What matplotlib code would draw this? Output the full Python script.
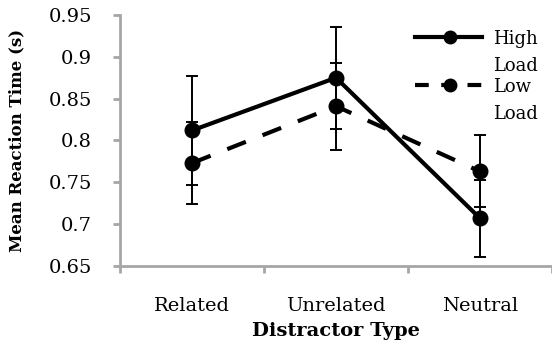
import numpy as np
from matplotlib import pyplot as plt

plt.rcParams.update({'font.size': 14,
                     'font.family': ['DejaVu Serif']})

categories = ['Related', 'Unrelated', 'Neutral']
high_load = [0.812, 0.875, 0.707]
low_load = [0.773, 0.841, 0.763]
high_err = [0.065, 0.061, 0.046]
low_err = [0.049, 0.052, 0.043]
series_labels = [['High', 'Load'], ['Low', 'Load']]

gray = '#a6a6a6'
x = np.arange(len(categories))

fig = plt.figure(figsize=(5.52, 3.5), dpi=100)
ax = fig.add_axes([120/552, 1 - 266/350, 432/552, (266 - 15)/350])

ax.errorbar(x, high_load, yerr=high_err, color='black', lw=3, marker='o',
            ms=10.5, ecolor='black', elinewidth=1.4, capsize=4.5, capthick=1.4,
            zorder=3)
ax.errorbar(x, low_load, yerr=low_err, color='black', lw=3, marker='o',
            ms=10.5, ls=(0, (4.8, 4.3)), ecolor='black', elinewidth=1.4,
            capsize=4.5, capthick=1.4, zorder=3)

ax.set_xlim(-0.5, -0.5 + 432/145)
ax.set_ylim(0.65, 0.95)
ax.set_yticks(np.arange(0.65, 0.951, 0.05))
ax.set_yticklabels(['0.65', '0.7', '0.75', '0.8', '0.85', '0.9', '0.95'])
ax.set_xticks(x)
ax.set_xticklabels(categories)
ax.set_xticks(np.arange(-0.5, 3.0, 1), minor=True)

for s in ['top', 'right']:
    ax.spines[s].set_visible(False)
for s in ['left', 'bottom']:
    ax.spines[s].set_color(gray)
    ax.spines[s].set_linewidth(2)
ax.tick_params(axis='y', which='major', color=gray, width=2, length=5, pad=15)
ax.tick_params(axis='x', which='major', length=0, pad=22)
ax.tick_params(axis='x', which='minor', color=gray, width=2, length=5)

ax.set_xlabel('Distractor Type', fontweight='bold', labelpad=5)
ax.set_ylabel('Mean Reaction Time (s)', fontweight='bold', fontsize=12,
              labelpad=17)

# legend drawn by hand so the key sits on the first text line
tr = ax.transAxes
def px(xp, yp):
    return ((xp - 120) / 432, (266 - yp) / 251)
styles = ['-', (0, (3.3, 3.0))]
for i, (lab, st) in enumerate(zip(series_labels, styles)):
    yk = 37 + 48 * i
    x0, y0 = px(415, yk)
    x1, _ = px(482, yk)
    xm, _ = px(450, yk)
    ax.plot([x0, x1], [y0, y0], color='black', lw=3, ls=st, transform=tr,
            clip_on=False)
    ax.plot([xm], [y0], 'o', color='black', ms=9, transform=tr, clip_on=False)
    for j, word in enumerate(lab):
        xt, yt = px(493, yk + 2 + 27 * j)
        ax.text(xt, yt, word, transform=tr, va='center', ha='left',
                fontsize=13)

fig.savefig('out.png', dpi=100)
